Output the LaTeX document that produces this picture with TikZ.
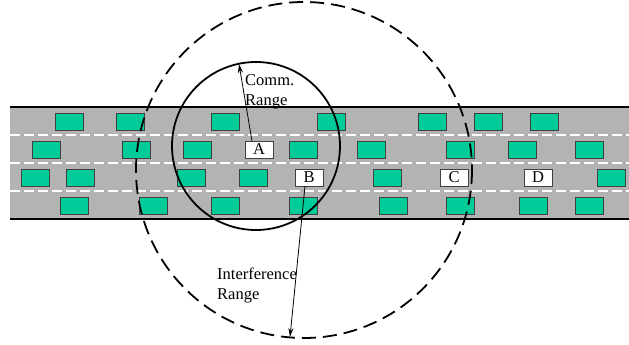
\documentclass[tikz,border=0pt]{standalone}
\usepackage{fontspec}
\setmainfont{Liberation Serif}
\usetikzlibrary{arrows.meta,calc}
\definecolor{carfill}{RGB}{0,204,153}
\definecolor{roadgray}{RGB}{179,179,179}
\definecolor{carline}{RGB}{64,64,64}
\begin{document}
\begin{tikzpicture}[x=1pt,y=-1pt,
  car/.style={draw=carline,line width=0.9pt,fill=carfill,minimum width=28pt,minimum height=17pt,inner sep=0pt,outer sep=0pt},
  vehbox/.style={draw=carline,line width=0.9pt,fill=white,minimum width=28pt,minimum height=17pt,inner sep=0pt,outer sep=0pt,font=\fontsize{16.5}{16.5}\selectfont},
  lanemark/.style={white,line width=2pt,dash pattern=on 10pt off 4pt},
  roadedge/.style={black,line width=1.8pt},
  rangecirc/.style={line width=1.8pt},
  rangearrow/.style={line width=0.8pt,-{Stealth[length=9pt,width=5pt]}},
  lbl/.style={align=left,inner sep=0pt,anchor=west,font=\fontsize{16.5}{20}\selectfont}]
\useasboundingbox (0,0) rectangle (629,345);
% road
\fill[roadgray] (10,107) rectangle (629,219);
\draw[roadedge] (10,107) -- (629,107);
\draw[roadedge] (10,219) -- (629,219);
\foreach \yy in {135,163,191}{\draw[lanemark] (10,\yy) -- (629,\yy);}
% cars
\foreach \xx [count=\i] in {69,130,225,331,432,488,544}{\node[car] (la\i) at (\xx,121.5) {};}
\foreach \xx [count=\i] in {46,136,197,303,371,460,522,589}{\node[car] (lb\i) at (\xx,149.5) {};}
\foreach \xx [count=\i] in {35,80,191,253,387,611}{\node[car] (lc\i) at (\xx,177.5) {};}
\foreach \xx [count=\i] in {74,153,225,303,393,460,533,589}{\node[car] (ld\i) at (\xx,205.5) {};}
\node[vehbox] (A) at (259,149.5) {A};
\node[vehbox] (B) at (309,177.5) {B};
\node[vehbox] (C) at (454,177.5) {C};
\node[vehbox] (D) at (538,177.5) {D};
% ranges
\draw[rangecirc] (256,146) circle[radius=84];
\draw[rangecirc,dash pattern=on 14pt off 7pt] (304,170) circle[radius=168];
\coordinate (commtip) at (239,64);
\coordinate (intftip) at (290,337);
\draw[rangearrow] ($(A.north west)+(7,0)$) -- (commtip);
\draw[rangearrow] ($(B.south west)+(10,0)$) -- (intftip);
\node[lbl] (commlbl) at (245,92) {Comm.\\Range};
\node[lbl] (intflbl) at (217,285.5) {Interference\\Range};
\end{tikzpicture}
\end{document}
